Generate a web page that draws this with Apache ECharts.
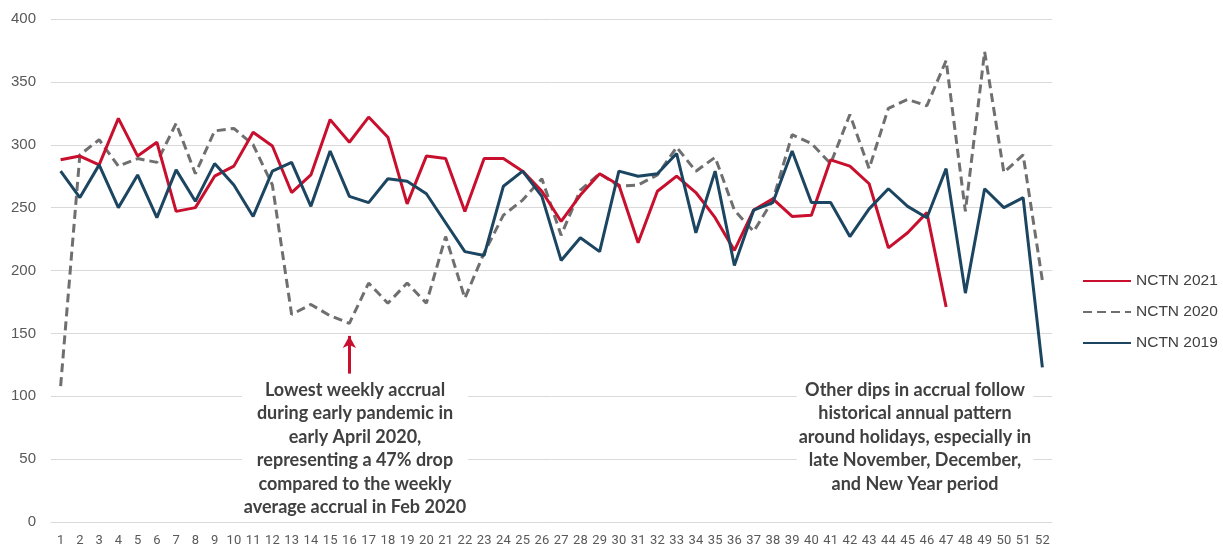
<!DOCTYPE html>
<html>
<head>
<meta charset="utf-8">
<script src="https://cdn.jsdelivr.net/npm/echarts@6/dist/echarts.min.js"></script>
<style>
  html, body { margin: 0; padding: 0; background: #fff; }
  #accrualChart { width: 1223px; height: 548px; }
</style>
</head>
<body>
<div id="accrualChart"></div>
<script>
// ==========================================================================
// Weekly NCTN accrual, 2019-2021
// ==========================================================================

var weeks = [];
for (var w = 1; w <= 52; w++) weeks.push(String(w));

var yTicks = [0, 50, 100, 150, 200, 250, 300, 350, 400];

var nctn2021 = [288, 291, 284, 321, 291, 302, 247, 250, 275, 283,
    310, 299, 262, 276, 320, 302, 322, 306, 253, 291,
    289, 247, 289, 289, 279, 263, 239, 260, 277, 268,
    222, 263, 275, 262, 242, 216, 248, 257, 243, 244,
    288, 283, 269, 218, 230, 246, 171];

var nctn2020 = [108, 292, 304, 283, 289, 286, 317, 277, 311, 313,
    300, 268, 165, 173, 164, 158, 190, 174, 190, 174,
    227, 178, 214, 244, 256, 273, 228, 264, 277, 267,
    268, 276, 298, 279, 290, 248, 231, 256, 308, 301,
    285, 324, 281, 329, 336, 331, 367, 247, 374, 278,
    292, 192];

var nctn2019 = [279, 258, 284, 250, 276, 242, 280, 255, 285, 268,
    243, 279, 286, 251, 295, 259, 254, 273, 271, 261,
    238, 215, 212, 267, 279, 259, 208, 226, 215, 279,
    275, 277, 293, 230, 279, 204, 248, 254, 295, 254,
    254, 227, 249, 265, 251, 242, 281, 182, 265, 250,
    258, 123];

var lowestNote = [
    'Lowest weekly accrual',
    'during early pandemic in',
    'early April 2020,',
    'representing a 47% drop',
    'compared to the weekly',
    'average accrual in Feb 2020'
];

var holidayNote = [
    'Other dips in accrual follow',
    'historical annual pattern',
    'around holidays, especially in',
    'late November, December,',
    'and New Year period'
];

var chart = echarts.init(document.getElementById('accrualChart'));

var noteStyle = {
    fontFamily: 'Lato, "Open Sans", sans-serif',
    fontWeight: 'bold',
    fontSize: 18,
    lineHeight: 23.5,
    fill: '#404040',
    align: 'center',
    backgroundColor: '#fff',
    padding: [0, 2, 0, 2]
};

chart.setOption({
    animation: false,
    grid: {
        left: 51,
        right: 171,
        top: 19,
        bottom: 26
    },
    legend: {
        orient: 'vertical',
        left: 1077,
        top: 268,
        itemWidth: 48,
        itemHeight: 14,
        itemGap: 15,
        itemStyle: { opacity: 0 },
        textStyle: {
            fontFamily: 'Arial, "Liberation Sans", sans-serif',
            fontSize: 15.5,
            color: '#404040'
        },
        data: ['NCTN 2021', 'NCTN 2020', 'NCTN 2019']
    },
    xAxis: {
        type: 'category',
        data: weeks,
        boundaryGap: true,
        axisLine: { lineStyle: { color: '#d9d9d9', width: 1 } },
        axisTick: { show: false },
        axisLabel: {
            interval: 0,
            margin: 12,
            fontFamily: '"Liberation Sans Narrow", "Arial Narrow", Roboto, sans-serif',
            fontSize: 13,
            color: '#595959'
        }
    },
    yAxis: {
        type: 'value',
        min: yTicks[0],
        max: yTicks[yTicks.length - 1],
        interval: 50,
        axisLine: { show: false },
        axisTick: { show: false },
        axisLabel: {
            margin: 15,
            fontFamily: 'Arial, "Liberation Sans", sans-serif',
            fontSize: 15,
            color: '#595959'
        },
        splitLine: { lineStyle: { color: '#d9d9d9', width: 1 } }
    },
    series: [
        {
            name: 'NCTN 2021',
            type: 'line',
            data: nctn2021,
            symbol: 'none',
            color: '#c8102e',
            lineStyle: { width: 3, color: '#c8102e' },
            z: 3
        },
        {
            name: 'NCTN 2020',
            type: 'line',
            data: nctn2020,
            symbol: 'none',
            color: '#6f6f6f',
            lineStyle: { width: 3, color: '#6f6f6f', type: [9, 5] },
            z: 2,
            markLine: {
                silent: true,
                symbol: ['none', 'arrow'],
                symbolSize: [10, 12],
                label: { show: false },
                lineStyle: { color: '#c8102e', width: 3, type: 'solid' },
                data: [[
                    { coord: ['16', 118] },
                    { coord: ['16', 148] }
                ]]
            }
        },
        {
            name: 'NCTN 2019',
            type: 'line',
            data: nctn2019,
            symbol: 'none',
            color: '#1b4560',
            lineStyle: { width: 3, color: '#1b4560' },
            z: 4
        }
    ],
    graphic: [
        {
            type: 'text',
            x: 355,
            y: 378,
            z: 10,
            style: Object.assign({ text: lowestNote.join('\n') }, noteStyle)
        },
        {
            type: 'text',
            x: 915,
            y: 378,
            z: 10,
            style: Object.assign({ text: holidayNote.join('\n') }, noteStyle)
        }
    ]
});
</script>
</body>
</html>
